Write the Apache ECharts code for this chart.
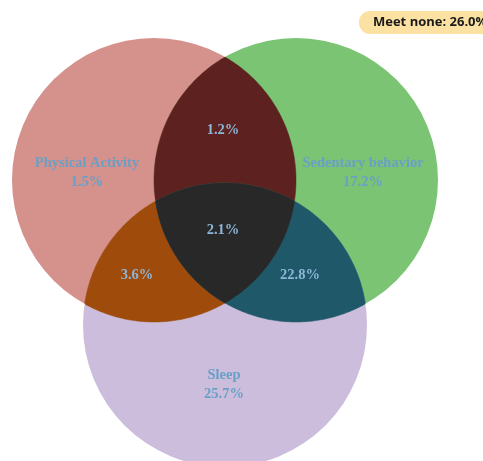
<!DOCTYPE html>
<html lang="en">
<head>
    <meta charset="UTF-8">
    <title>Venn - movement behaviours</title>
    <style>
        html, body { margin: 0; padding: 0; background: #fff; }
        #main { width: 483px; height: 461px; }
    </style>
    <script src="https://cdn.jsdelivr.net/npm/echarts@6/dist/echarts.min.js"></script>
</head>
<body>
<div id="main"></div>
<script type="text/javascript">
    // sets and circle layout (in picture units)
    var setNames = ['Physical Activity', 'Sedentary behavior', 'Sleep'];
    var circleX = [154, 296, 225];
    var circleY = [180, 180, 325];
    var circleR = [142, 142, 142];

    // regions: which circles each one belongs to, and its share
    var regionSets = [[0], [1], [2], [0, 1], [0, 2], [1, 2], [0, 1, 2]];
    var regionValues = [1.5, 17.2, 25.7, 1.2, 3.6, 22.8, 2.1];
    var labelX = [87, 363, 224, 223, 137, 300, 223];
    var labelY = [173, 173, 385, 130, 275, 275, 230];
    var noneValue = 26.0;

    var regionColors = ['#D5918B', '#7BC474', '#CBBDDB', '#5D2220', '#9E4B0B', '#1F5868', '#282828'];

    var myChart = echarts.init(document.getElementById('main'));

    function circlePx(api, k) {
        var c = api.coord([circleX[k], circleY[k]]);
        var r = api.size([circleR[k], 0])[0];
        return { x: c[0], y: c[1], r: r };
    }

    // intersection of circles as polygon (sampled arcs, sorted round centroid)
    function intersectPoly(circles) {
        var pts = [];
        circles.forEach(function (c, i) {
            for (var s = 0; s < 360; s++) {
                var a = s * Math.PI / 180;
                var px = c.x + c.r * Math.cos(a), py = c.y + c.r * Math.sin(a);
                var inside = circles.every(function (o, j) {
                    if (j === i) return true;
                    var dx = px - o.x, dy = py - o.y;
                    return Math.sqrt(dx * dx + dy * dy) <= o.r + 0.01;
                });
                if (inside) pts.push([px, py]);
            }
        });
        var cx = 0, cy = 0;
        pts.forEach(function (p) { cx += p[0]; cy += p[1]; });
        cx /= pts.length; cy /= pts.length;
        pts.sort(function (p, q) {
            return Math.atan2(p[1] - cy, p[0] - cx) - Math.atan2(q[1] - cy, q[0] - cx);
        });
        return pts;
    }

    var regionData = regionSets.map(function (s, i) { return [labelX[i], labelY[i], i]; });

    var option = {
        animation: false,
        title: {
            text: 'Meet none: ' + noneValue.toFixed(1) + '%',
            left: 359,
            top: 11,
            backgroundColor: '#FBE2A2',
            borderRadius: 11,
            padding: [5, 14, 5, 14],
            textStyle: {
                fontFamily: '"Open Sans", "Liberation Sans", sans-serif',
                fontWeight: 'bold',
                fontSize: 13,
                color: '#1a1a1a'
            }
        },
        grid: { left: 0, right: 0, top: 0, bottom: 0 },
        xAxis: { type: 'value', min: 0, max: 483, show: false },
        yAxis: { type: 'value', min: 0, max: 461, inverse: true, show: false },
        series: [{
            type: 'custom',
            clip: false,
            z: 2,
            data: regionData,
            renderItem: function (params, api) {
                var i = api.value(2);
                var set = regionSets[i];
                var circles = set.map(function (k) { return circlePx(api, k); });
                if (circles.length === 1) {
                    return {
                        type: 'circle',
                        shape: { cx: circles[0].x, cy: circles[0].y, r: circles[0].r },
                        style: { fill: regionColors[i] }
                    };
                }
                return {
                    type: 'polygon',
                    shape: { points: intersectPoly(circles) },
                    style: { fill: regionColors[i], stroke: regionColors[i], lineWidth: 0.5 }
                };
            }
        }, {
            type: 'custom',
            clip: false,
            z: 5,
            data: regionData,
            renderItem: function (params, api) {
                var i = api.value(2);
                var p = api.coord([api.value(0), api.value(1)]);
                var set = regionSets[i];
                var txt = regionValues[i].toFixed(1) + '%';
                if (set.length === 1) txt = setNames[set[0]] + '\n' + txt;
                return {
                    type: 'text',
                    style: {
                        text: txt,
                        x: p[0],
                        y: p[1],
                        align: 'center',
                        verticalAlign: 'middle',
                        fontFamily: '"Liberation Serif", "Times New Roman", serif',
                        fontWeight: 'bold',
                        fontSize: 14.5,
                        lineHeight: 19,
                        fill: set.length === 1 ? '#6A9FC6' : '#8DB6D8'
                    }
                };
            }
        }]
    };

    myChart.setOption(option);
</script>
</body>
</html>
